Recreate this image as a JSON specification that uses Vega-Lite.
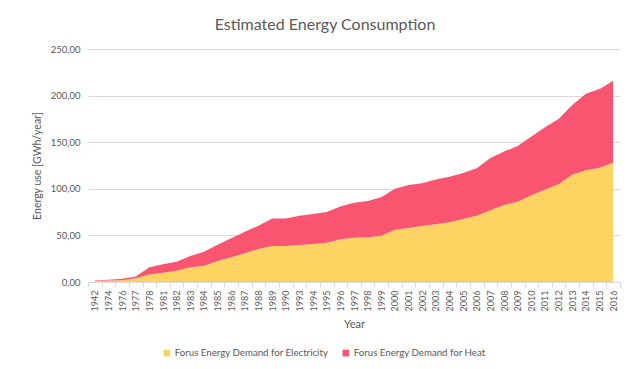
{
  "$schema": "https://vega.github.io/schema/vega-lite/v6.json",
  "autosize": "none",
  "width": 532,
  "height": 233,
  "padding": {"left": 88, "top": 49, "right": 9, "bottom": 87},
  "background": "white",
  "config": {
    "font": "Lato",
    "view": {"stroke": null},
    "axis": {"labelColor": "#595959", "titleColor": "#595959", "titleFontWeight": "normal", "labelFont": "Lato", "titleFont": "Lato"}
  },
  "title": {"text": "Estimated Energy Consumption", "fontSize": 16, "fontWeight": "normal", "color": "#595959", "anchor": "middle", "dx": -29, "offset": 11, "font": "Lato"},
  "data": {"values": [
    {"year":"1942","series":"Forus Energy Demand for Electricity","value":1},
    {"year":"1974","series":"Forus Energy Demand for Electricity","value":1.5},
    {"year":"1976","series":"Forus Energy Demand for Electricity","value":2},
    {"year":"1977","series":"Forus Energy Demand for Electricity","value":4},
    {"year":"1978","series":"Forus Energy Demand for Electricity","value":8},
    {"year":"1981","series":"Forus Energy Demand for Electricity","value":10},
    {"year":"1982","series":"Forus Energy Demand for Electricity","value":12},
    {"year":"1983","series":"Forus Energy Demand for Electricity","value":15.7},
    {"year":"1984","series":"Forus Energy Demand for Electricity","value":17.5},
    {"year":"1985","series":"Forus Energy Demand for Electricity","value":22.5},
    {"year":"1986","series":"Forus Energy Demand for Electricity","value":26.5},
    {"year":"1987","series":"Forus Energy Demand for Electricity","value":30.8},
    {"year":"1988","series":"Forus Energy Demand for Electricity","value":35.4},
    {"year":"1989","series":"Forus Energy Demand for Electricity","value":38.6},
    {"year":"1990","series":"Forus Energy Demand for Electricity","value":38.6},
    {"year":"1993","series":"Forus Energy Demand for Electricity","value":39.7},
    {"year":"1994","series":"Forus Energy Demand for Electricity","value":40.8},
    {"year":"1995","series":"Forus Energy Demand for Electricity","value":42},
    {"year":"1996","series":"Forus Energy Demand for Electricity","value":45.8},
    {"year":"1997","series":"Forus Energy Demand for Electricity","value":47.5},
    {"year":"1998","series":"Forus Energy Demand for Electricity","value":48},
    {"year":"1999","series":"Forus Energy Demand for Electricity","value":49.5},
    {"year":"2000","series":"Forus Energy Demand for Electricity","value":56},
    {"year":"2001","series":"Forus Energy Demand for Electricity","value":58},
    {"year":"2002","series":"Forus Energy Demand for Electricity","value":60},
    {"year":"2003","series":"Forus Energy Demand for Electricity","value":62},
    {"year":"2004","series":"Forus Energy Demand for Electricity","value":64},
    {"year":"2005","series":"Forus Energy Demand for Electricity","value":67.6},
    {"year":"2006","series":"Forus Energy Demand for Electricity","value":71},
    {"year":"2007","series":"Forus Energy Demand for Electricity","value":77},
    {"year":"2008","series":"Forus Energy Demand for Electricity","value":82.6},
    {"year":"2009","series":"Forus Energy Demand for Electricity","value":86},
    {"year":"2010","series":"Forus Energy Demand for Electricity","value":93},
    {"year":"2011","series":"Forus Energy Demand for Electricity","value":99},
    {"year":"2012","series":"Forus Energy Demand for Electricity","value":105},
    {"year":"2013","series":"Forus Energy Demand for Electricity","value":115},
    {"year":"2014","series":"Forus Energy Demand for Electricity","value":120},
    {"year":"2015","series":"Forus Energy Demand for Electricity","value":122.6},
    {"year":"2016","series":"Forus Energy Demand for Electricity","value":128},
    {"year":"1942","series":"Forus Energy Demand for Heat","value":0.5},
    {"year":"1974","series":"Forus Energy Demand for Heat","value":1},
    {"year":"1976","series":"Forus Energy Demand for Heat","value":1.5},
    {"year":"1977","series":"Forus Energy Demand for Heat","value":2},
    {"year":"1978","series":"Forus Energy Demand for Heat","value":7.7},
    {"year":"1981","series":"Forus Energy Demand for Heat","value":9},
    {"year":"1982","series":"Forus Energy Demand for Heat","value":9.8},
    {"year":"1983","series":"Forus Energy Demand for Heat","value":12.3},
    {"year":"1984","series":"Forus Energy Demand for Heat","value":15},
    {"year":"1985","series":"Forus Energy Demand for Heat","value":17.5},
    {"year":"1986","series":"Forus Energy Demand for Heat","value":20.5},
    {"year":"1987","series":"Forus Energy Demand for Heat","value":23.2},
    {"year":"1988","series":"Forus Energy Demand for Heat","value":25},
    {"year":"1989","series":"Forus Energy Demand for Heat","value":29.4},
    {"year":"1990","series":"Forus Energy Demand for Heat","value":29.4},
    {"year":"1993","series":"Forus Energy Demand for Heat","value":31.3},
    {"year":"1994","series":"Forus Energy Demand for Heat","value":32.2},
    {"year":"1995","series":"Forus Energy Demand for Heat","value":33},
    {"year":"1996","series":"Forus Energy Demand for Heat","value":35.2},
    {"year":"1997","series":"Forus Energy Demand for Heat","value":37.5},
    {"year":"1998","series":"Forus Energy Demand for Heat","value":39},
    {"year":"1999","series":"Forus Energy Demand for Heat","value":41.5},
    {"year":"2000","series":"Forus Energy Demand for Heat","value":44},
    {"year":"2001","series":"Forus Energy Demand for Heat","value":46},
    {"year":"2002","series":"Forus Energy Demand for Heat","value":46},
    {"year":"2003","series":"Forus Energy Demand for Heat","value":48},
    {"year":"2004","series":"Forus Energy Demand for Heat","value":49},
    {"year":"2005","series":"Forus Energy Demand for Heat","value":49.4},
    {"year":"2006","series":"Forus Energy Demand for Heat","value":51},
    {"year":"2007","series":"Forus Energy Demand for Heat","value":56},
    {"year":"2008","series":"Forus Energy Demand for Heat","value":57.4},
    {"year":"2009","series":"Forus Energy Demand for Heat","value":60},
    {"year":"2010","series":"Forus Energy Demand for Heat","value":63},
    {"year":"2011","series":"Forus Energy Demand for Heat","value":67},
    {"year":"2012","series":"Forus Energy Demand for Heat","value":70},
    {"year":"2013","series":"Forus Energy Demand for Heat","value":75},
    {"year":"2014","series":"Forus Energy Demand for Heat","value":82},
    {"year":"2015","series":"Forus Energy Demand for Heat","value":84.4},
    {"year":"2016","series":"Forus Energy Demand for Heat","value":88}
  ]},
  "mark": {"type": "area", "interpolate": "linear"},
  "encoding": {
    "x": {
      "field": "year", "type": "ordinal", "bandPosition": 0.5,
      "scale": {"type": "band", "paddingInner": 0, "paddingOuter": 0},
      "axis": {"title": "Year", "labelAngle": -90, "labelFontSize": 9, "labelPadding": 3, "tickBand": "extent", "tickColor": "#D9D9D9", "domainColor": "#D9D9D9", "tickSize": 5, "titleFontSize": 11, "titlePadding": 8, "labelBaseline": "middle"}
    },
    "y": {
      "field": "value", "type": "quantitative", "stack": "zero",
      "scale": {"domain": [0, 250]},
      "axis": {"title": "Energy use [GWh/year]", "values": [0, 50, 100, 150, 200, 250], "labelExpr": "replace(format(datum.value, '.2f'), '.', ',')", "labelFontSize": 9.5, "labelPadding": 8, "ticks": false, "domain": false, "gridColor": "#D9D9D9", "titleFontSize": 10.5, "titlePadding": 8}
    },
    "order": {"field": "series", "sort": "ascending"},
    "color": {
      "field": "series", "type": "nominal",
      "scale": {"domain": ["Forus Energy Demand for Electricity", "Forus Energy Demand for Heat"], "range": ["#FDD462", "#FA5570"]},
      "legend": {"title": null, "orient": "none", "direction": "horizontal", "legendX": 74, "legendY": 299, "symbolType": "square", "symbolSize": 45, "labelFontSize": 9.7, "labelColor": "#595959", "columnPadding": 12, "labelOffset": 3, "symbolStrokeWidth": 0}
    }
  }
}
